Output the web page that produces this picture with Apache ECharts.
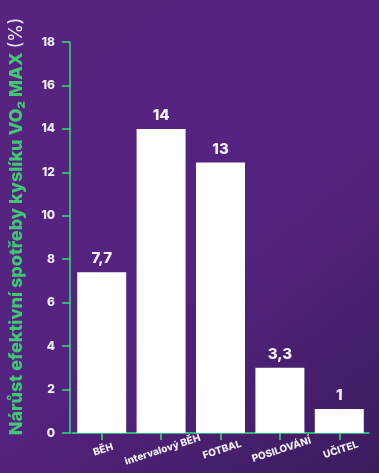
<!DOCTYPE html>
<html><head><meta charset="utf-8">
<script src="https://cdn.jsdelivr.net/npm/echarts@6/dist/echarts.min.js"></script>
<style>html,body{margin:0;padding:0;background:#4a2172;}#c{width:379px;height:473px;}</style>
</head><body><div id="c"></div>
<script>
const categories = ['BĚH', 'intervalový BĚH', 'FOTBAL', 'POSILOVÁNÍ', 'UČITEL'];
const values = [7.4, 14.0, 12.45, 3.0, 1.1];
const valueLabels = ['7,7', '14', '13', '3,3', '1'];
const yTicks = [0, 2, 4, 6, 8, 10, 12, 14, 16, 18];

const green = '#35e07a';
const chart = echarts.init(document.getElementById('c'));
chart.setOption({
  backgroundColor: {
    type: 'linear', x: 0, y: 0, x2: 1, y2: 1,
    colorStops: [
      {offset: 0, color: '#57237f'},
      {offset: 0.55, color: '#542380'},
      {offset: 1, color: '#3c1c5e'}
    ]
  },
  textStyle: {fontFamily: 'Inter'},
  grid: {left: 70, right: 10, top: 42, bottom: 40},
  xAxis: {
    type: 'category',
    data: categories,
    axisLine: {lineStyle: {color: green, width: 1.5}},
    axisTick: {show: true, alignWithLabel: true, length: 7, lineStyle: {color: green, width: 1.5}},
    axisLabel: {color: '#f2eef6', fontWeight: 800, fontSize: 10, rotate: 18, align: 'center', verticalAlign: 'top', margin: 12, interval: 0}
  },
  yAxis: {
    type: 'value', min: 0, max: 18, interval: 2,
    offset: 2,
    name: '{g|Nárůst efektivní spotřeby kyslíku VO₂ MAX }{w|(%)}',
    nameLocation: 'middle', nameGap: 44, nameRotate: 90,
    nameTextStyle: {
      padding: [0, 0, 0, 22],
      rich: {
        g: {color: '#3fc874', fontWeight: 800, fontSize: 18, fontFamily: 'Inter'},
        w: {color: '#ece6f2', fontWeight: 400, fontSize: 18, fontFamily: 'Inter'}
      }
    },
    axisLine: {show: true, lineStyle: {color: green, width: 1.5}},
    axisTick: {show: true, length: 8, lineStyle: {color: green, width: 1.5}},
    splitLine: {show: false},
    axisLabel: {color: '#f2eef6', fontWeight: 800, fontSize: 12, margin: 15,
      formatter: v => yTicks.includes(v) ? String(v) : ''}
  },
  series: [{
    type: 'bar',
    data: values,
    barWidth: 49,
    itemStyle: {color: '#ffffff'},
    label: {show: true, position: 'top', distance: 6, color: '#f4f0f7', fontWeight: 800, fontSize: 15,
      formatter: p => valueLabels[p.dataIndex]}
  }]
});
</script></body></html>
